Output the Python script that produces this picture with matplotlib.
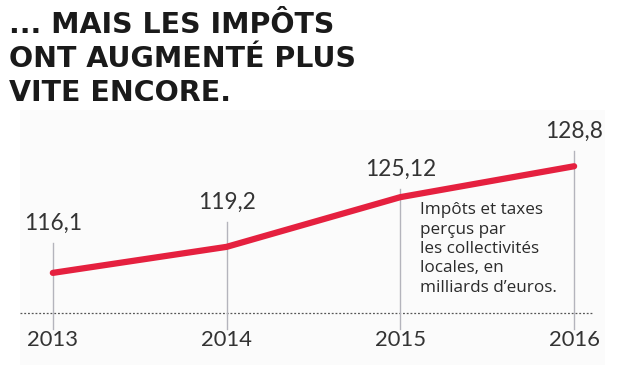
import matplotlib.pyplot as plt
from matplotlib.patches import Rectangle

years = [2013, 2014, 2015, 2016]
values = [116.1, 119.2, 125.12, 128.8]
value_labels = ['116,1', '119,2', '125,12', '128,8']
# how far above each point its label sits (data units)
label_lift = [5.95, 5.35, 3.35, 4.2]

title_lines = ['... MAIS LES IMPÔTS', 'ONT AUGMENTÉ PLUS', 'VITE ENCORE.']
note = "Impôts et taxes\nperçus par\nles collectivités\nlocales, en\nmilliards d’euros."

fig = plt.figure(figsize=(6.2, 3.77), dpi=100)
ax = fig.add_axes([0, 0, 1, 1])
ax.set_xlim(2012.696, 2016.264)
ax.set_ylim(103.7, 148.6)
ax.axis('off')

# faint panel behind the chart
ax.add_patch(Rectangle((20 / 620, 12 / 377), 585 / 620, 255 / 377, transform=ax.transAxes,
                       facecolor='#fbfbfb', edgecolor='none', zorder=0))

# dotted baseline
ax.plot([20 / 620, 592 / 620], [0.17, 0.17], transform=ax.transAxes,
        color='#555555', lw=0.9, ls=(0, (1.5, 1.5)), zorder=1)

stem_bottom = ax.transData.inverted().transform(ax.transAxes.transform((0, 0.128)))[1]
for yr, v, lab, lift in zip(years, values, value_labels, label_lift):
    stem_top = v + lift - 2.4
    ax.plot([yr, yr], [stem_bottom, stem_top], color='#b4b4bc', lw=1.0, zorder=2)
    ax.text(yr, v + lift, lab, ha='center', va='center', fontsize=16.3,
            family='Lato', color='#333333')
    ax.text(yr, 0.098, str(yr), ha='center', va='center', fontsize=15.8,
            family='Lato', color='#333333',
            transform=ax.get_xaxis_transform())

ax.plot(years, values, color='#e5203f', lw=4.5, solid_capstyle='round', zorder=3)

ax.text(2015.113, 124.5, note, ha='left', va='top', fontsize=12.3, family='Open Sans',
        color='#2b2b2b', linespacing=1.28, zorder=4)

for i, line in enumerate(title_lines):
    fig.text(9 / 620, 1 - (11 + 34 * i) / 377, line, ha='left', va='top',
             fontsize=20.5, family='DejaVu Sans', fontweight='bold', color='#1a1a1a')

fig.savefig('out.png', dpi=100)
